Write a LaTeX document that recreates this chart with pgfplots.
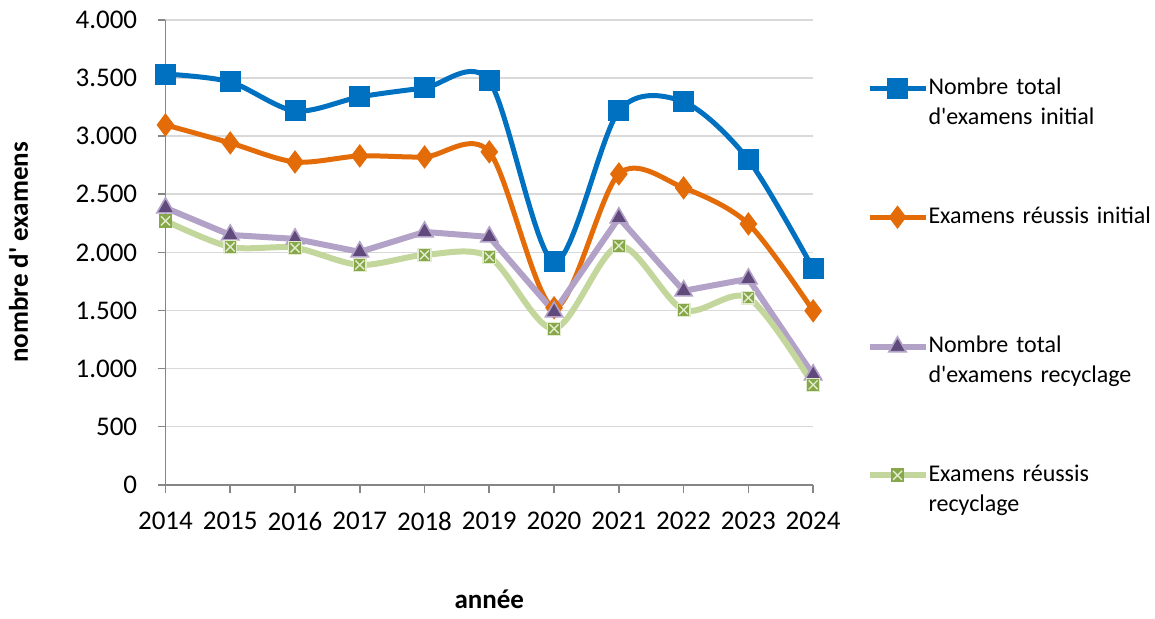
\documentclass[border=0pt]{standalone}
\usepackage{fontspec}
\setmainfont{Carlito}[Ligatures=TeXOff]
\usepackage{pgfplots}
\pgfplotsset{compat=1.18}
\definecolor{cblue}{HTML}{0070C0}
\definecolor{corange}{HTML}{E36C09}
\definecolor{cpurple}{HTML}{B3A2C7}
\definecolor{cpurpled}{HTML}{604A7B}
\definecolor{cgreen}{HTML}{C3D69B}
\definecolor{cgreend}{HTML}{86A84A}
\definecolor{cgreenx}{HTML}{E2ECCC}
\definecolor{caxis}{HTML}{868686}
\definecolor{cgrid}{HTML}{D9D9D9}

\pgfdeclareplotmark{sqx}{%
  \pgfpathrectangle{\pgfpoint{-\pgfplotmarksize}{-\pgfplotmarksize}}{\pgfpoint{2\pgfplotmarksize}{2\pgfplotmarksize}}%
  \pgfusepathqfillstroke
  \pgfsetstrokecolor{cgreenx}%
  \pgfsetlinewidth{0.7pt}%
  \pgfpathmoveto{\pgfpoint{-0.7\pgfplotmarksize}{-0.7\pgfplotmarksize}}%
  \pgfpathlineto{\pgfpoint{0.7\pgfplotmarksize}{0.7\pgfplotmarksize}}%
  \pgfpathmoveto{\pgfpoint{-0.7\pgfplotmarksize}{0.7\pgfplotmarksize}}%
  \pgfpathlineto{\pgfpoint{0.7\pgfplotmarksize}{-0.7\pgfplotmarksize}}%
  \pgfusepathqstroke
}

\begin{document}
\fontsize{13.5}{16}\selectfont
\begin{tikzpicture}
\begin{axis}[
  scale only axis,
  width=324pt, height=232.5pt,
  xmin=2014, xmax=2024,
  ymin=0, ymax=4000,
  xtick={2014,...,2024},
  ytick={0,500,...,4000},
  x tick label style={/pgf/number format/1000 sep={}, yshift=-5pt},
  y tick label style={/pgf/number format/1000 sep={.}, xshift=-5.5pt},
  /pgf/number format/assume math mode=true,
  axis x line*=bottom, axis y line*=left,
  axis line style={draw=caxis, line width=0.8pt, -},
  tick align=outside,
  major tick length=4pt,
  tick style={draw=caxis, line width=0.8pt},
  ymajorgrids=true,
  grid style={draw=cgrid, line width=0.8pt},
  ylabel={\textbf{nombre d' examens}},
  xlabel={\textbf{année}},
  ylabel style={at={(rel axis cs:0,0.5)}, anchor=center, yshift=73.5pt},
  xlabel style={at={(rel axis cs:0.5,0)}, anchor=center, yshift=-57.5pt},
  clip=false,
  legend style={at={(rel axis cs:1.0818,0.877)}, anchor=north west,
    draw=none, fill=none, inner sep=0pt,
    row sep=54pt,
    cells={anchor=base west},
    nodes={align=left, text width=112pt, inner sep=0pt, xshift=3pt},
    font=\fontsize{12}{15}\selectfont},
  legend image code/.code={%
    \draw[yshift=3pt, mark repeat=2, mark phase=2] plot coordinates {(0pt,0pt) (14pt,0pt) (28pt,0pt)};},
]
\coordinate (o) at (rel axis cs:0,0);
\addplot[cblue, line width=2.5pt, smooth, mark=square*, mark size=5pt,
  mark options={line width=0.5pt}] coordinates {
  (2014,3535) (2015,3467) (2016,3217) (2017,3338) (2018,3415) (2019,3475)
  (2020,1918) (2021,3217) (2022,3295) (2023,2796) (2024,1858)};
\addlegendentry{Nombre total\\d'examens initial}
\addplot[corange, line width=2.5pt, smooth, mark=diamond*, mark size=5.5pt,
  mark options={line width=0.5pt}] coordinates {
  (2014,3097) (2015,2942) (2016,2778) (2017,2830) (2018,2821) (2019,2865)
  (2020,1523) (2021,2675) (2022,2555) (2023,2245) (2024,1497)};
\addlegendentry{Examens réussis initial\\\mbox{}}
\addplot[cpurple, line width=3pt, mark=triangle*, mark size=5pt,
  mark options={fill=cpurpled, draw=cpurple, line width=0.8pt}] coordinates {
  (2014,2383) (2015,2150) (2016,2116) (2017,2004) (2018,2176) (2019,2133)
  (2020,1488) (2021,2297) (2022,1669) (2023,1772) (2024,946)};
\addlegendentry{Nombre total\\d'examens recyclage}
\addplot[cgreen, line width=3pt, smooth, mark=sqx, mark size=3.2pt,
  mark options={fill=cgreend, draw=cgreend, line width=0.5pt}] coordinates {
  (2014,2271) (2015,2047) (2016,2039) (2017,1892) (2018,1978) (2019,1961)
  (2020,1342) (2021,2056) (2022,1505) (2023,1609) (2024,860)};
\addlegendentry{Examens réussis\\recyclage}
\end{axis}
\path (o) ++(-82.5pt,-63.5pt) coordinate (bl);
\path (o) ++(495pt,242.5pt) coordinate (tr);
\path (bl) -- (tr);
\end{tikzpicture}
\end{document}
